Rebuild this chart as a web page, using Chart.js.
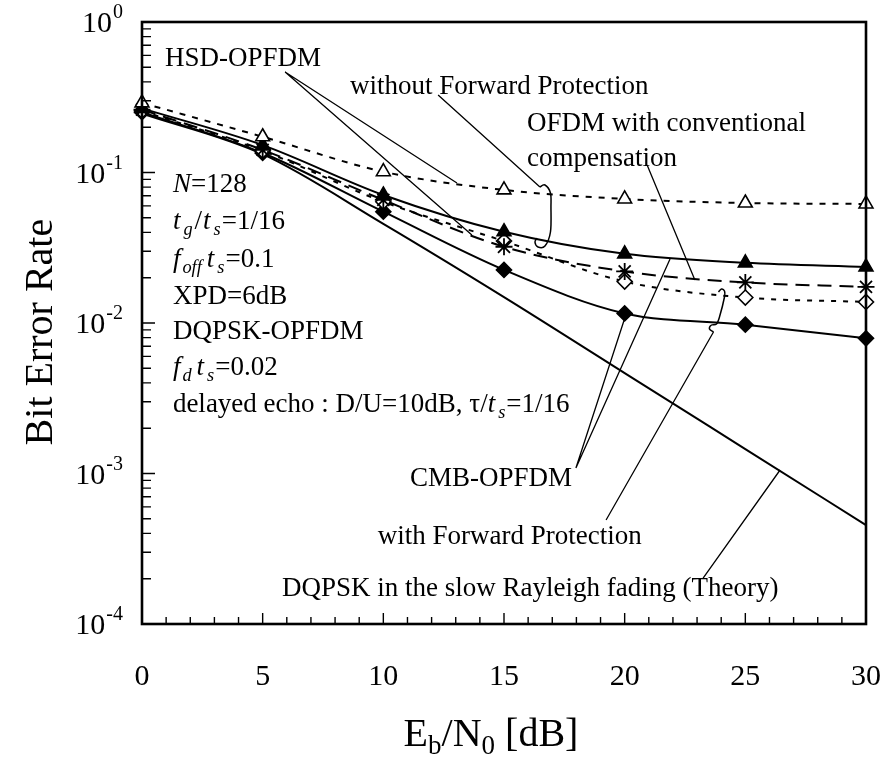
<!DOCTYPE html>
<html>
<head>
<meta charset="utf-8">
<title>BER vs Eb/N0</title>
<script src="https://cdn.jsdelivr.net/npm/chart.js@4.4.1/dist/chart.umd.min.js"></script>
<style>
  html, body { margin: 0; padding: 0; background: #ffffff; }
  canvas { display: block; }
</style>
</head>
<body>
<canvas id="ber" width="881" height="761"></canvas>
<script>
// Eb/N0 points (dB)
const ebn0 = [0, 5, 10, 15, 20, 25, 30];

// Bit error rate for each scheme
const hsdWithoutFP     = [0.290, 0.1728, 0.1012, 0.0766, 0.0667, 0.0627, 0.0618];
const cmbWithoutFP     = [0.2666, 0.1521, 0.0709, 0.0404, 0.0288, 0.0251, 0.0236];
const ofdmConventional = [0.2615, 0.1413, 0.0657, 0.0321, 0.0220, 0.0186, 0.0174];
const hsdWithFP        = [0.2565, 0.1392, 0.0639, 0.0350, 0.01885, 0.01477, 0.0138];
const cmbWithFP        = [0.2515, 0.1348, 0.0549, 0.02254, 0.01158, 0.00974, 0.00791];
const theoryRayleigh   = [0.2466, 0.1323, 0.0456, 0.01487, 0.00465, 0.001453, 0.000454];

// Axis tick labels
const xTickValues = [0, 5, 10, 15, 20, 25, 30];
const yTickExponents = [0, -1, -2, -3, -4];

const FONT = '"Liberation Serif", "Times New Roman", Times, serif';
const TEXT_SIZE = 27;

const toPoints = (xs, ys) => xs.map((x, i) => ({ x, y: ys[i] }));

// Text annotations, anchored in data coordinates (dB, BER); y is the text's vertical centre.
const notes = [
  { x: 0.95, y: 0.5855, runs: [{ t: 'HSD-OPFDM' }] },
  { x: 8.62, y: 0.3814, runs: [{ t: 'without Forward Protection' }] },
  { x: 15.95, y: 0.2165, runs: [{ t: 'OFDM with conventional' }] },
  { x: 15.95, y: 0.1268, runs: [{ t: 'compensation' }] },
  { x: 1.28, y: 0.0851, runs: [{ t: 'N', it: 1 }, { t: '=128' }] },
  { x: 1.28, y: 0.04834, runs: [{ t: 't', it: 1 }, { t: 'g', it: 1, sub: 1, g: 3 }, { t: '/', g: 2 }, { t: 't', it: 1, g: 1 }, { t: 's', it: 1, sub: 1, g: 3 }, { t: '=1/16', g: 1 }] },
  { x: 1.28, y: 0.02703, runs: [{ t: 'f', it: 1 }, { t: 'off', it: 1, sub: 1, g: 2 }, { t: 't', it: 1, g: 5 }, { t: 's', it: 1, sub: 1, g: 3 }, { t: '=0.1', g: 1 }] },
  { x: 1.28, y: 0.01535, runs: [{ t: 'XPD=6dB' }] },
  { x: 1.28, y: 0.008984, runs: [{ t: 'DQPSK-OPFDM' }] },
  { x: 1.28, y: 0.005179, runs: [{ t: 'f', it: 1 }, { t: 'd', it: 1, sub: 1, g: 2 }, { t: 't', it: 1, g: 5 }, { t: 's', it: 1, sub: 1, g: 3 }, { t: '=0.02', g: 1 }] },
  { x: 1.28, y: 0.00294, runs: [{ t: 'delayed echo : D/U=10dB, \u03c4/' }, { t: 't', it: 1 }, { t: 's', it: 1, sub: 1, g: 3 }, { t: '=1/16', g: 1 }] },
  { x: 11.1, y: 0.000948, runs: [{ t: 'CMB-OPFDM' }] },
  { x: 9.77, y: 0.0003903, runs: [{ t: 'with Forward Protection' }] },
  { x: 5.8, y: 0.0001761, runs: [{ t: 'DQPSK in the slow Rayleigh fading (Theory)' }] }
];

// Leader lines from labels to curves, in data coordinates.
const leaders = [
  [[5.93, 0.4653], [13.05, 0.0851]],
  [[5.93, 0.4653], [13.67, 0.03844]],
  [[12.27, 0.3273], [16.49, 0.0801]],
  [[20.93, 0.1121], [22.91, 0.0193]],
  [[17.98, 0.001088], [20.06, 0.01148]],
  [[17.98, 0.001088], [21.88, 0.02661]],
  [[19.23, 0.000491], [23.68, 0.008714]],
  [[23.25, 0.000202], [26.44, 0.001055]]
];

// Grouping loops drawn at a leader's end; offsets in pixels from the anchor.
const loops = [
  { x: 16.49, y: 0.0801, path: [[0, 0], [5, -2], [10.5, 6], [11, 20], [10.5, 45], [5, 59], [-2, 60], [-5, 55], [-3, 51]] },
  { x: 23.68, y: 0.008714, path: [[0, 0], [-4, -3], [-2, -7], [3, -8], [6, -15], [11, -35], [11, -41], [8, -43], [5, -40]] }
];

function drawRuns(ctx, x, cy, runs, size) {
  const base = cy + size * 0.33;
  let cx = x;
  for (const r of runs) {
    const s = r.sub ? size * 0.68 : size;
    ctx.font = (r.it ? 'italic ' : '') + s + 'px ' + FONT;
    cx += r.g || 0;
    ctx.fillText(r.t, cx, base + (r.sub ? size * 0.24 : 0));
    cx += ctx.measureText(r.t).width;
  }
}

function smoothPath(ctx, pts) {
  ctx.moveTo(pts[0][0], pts[0][1]);
  for (let i = 0; i < pts.length - 1; i++) {
    const p0 = pts[Math.max(i - 1, 0)], p1 = pts[i], p2 = pts[i + 1], p3 = pts[Math.min(i + 2, pts.length - 1)];
    const c1x = p1[0] + (p2[0] - p0[0]) / 6, c1y = p1[1] + (p2[1] - p0[1]) / 6;
    const c2x = p2[0] - (p3[0] - p1[0]) / 6, c2y = p2[1] - (p3[1] - p1[1]) / 6;
    ctx.bezierCurveTo(c1x, c1y, c2x, c2y, p2[0], p2[1]);
  }
}

// Frame, inward ticks, tick labels and axis titles
const axesPlugin = {
  id: 'axesFrame',
  afterDatasetsDraw(chart) {
    const { ctx, chartArea: a, scales: { x, y } } = chart;
    ctx.save();
    ctx.strokeStyle = '#000';
    ctx.fillStyle = '#000';

    // ticks on the bottom axis: every dB, longer at labelled values
    ctx.lineWidth = 1.4;
    ctx.beginPath();
    for (let v = x.min; v <= x.max; v += 1) {
      const px = x.getPixelForValue(v);
      const len = v % 5 === 0 ? 11 : 7;
      ctx.moveTo(px, a.bottom);
      ctx.lineTo(px, a.bottom - len);
    }
    // ticks on the left axis: decades and 2..9 minors
    for (let e = -4; e <= 0; e++) {
      for (let m = 1; m <= 9; m++) {
        const v = m * Math.pow(10, e);
        if (v < y.min || v > y.max) continue;
        const py = y.getPixelForValue(v);
        const len = m === 1 ? 13 : 9;
        ctx.moveTo(a.left, py);
        ctx.lineTo(a.left + len, py);
      }
    }
    ctx.stroke();

    // frame
    ctx.lineWidth = 2.6;
    ctx.strokeRect(a.left, a.top, a.right - a.left, a.bottom - a.top);

    // bottom tick labels
    ctx.font = '30px ' + FONT;
    ctx.textAlign = 'center';
    ctx.textBaseline = 'alphabetic';
    for (const v of xTickValues) {
      ctx.fillText(String(v), x.getPixelForValue(v), a.bottom + 61);
    }

    // left tick labels as powers of ten
    ctx.textAlign = 'left';
    for (const e of yTickExponents) {
      const py = y.getPixelForValue(Math.pow(10, e));
      ctx.font = '30px ' + FONT;
      const wBase = ctx.measureText('10').width;
      ctx.font = '20px ' + FONT;
      const expTxt = e === 0 ? '0' : '-' + Math.abs(e);
      const wExp = ctx.measureText(expTxt).width;
      const right = 123;
      const left = right - wBase - wExp - 1;
      ctx.font = '30px ' + FONT;
      ctx.fillText('10', left, py + 10);
      ctx.font = '20px ' + FONT;
      ctx.fillText(expTxt, left + wBase + 1, py - 4);
    }

    // axis titles
    ctx.save();
    ctx.font = '40px ' + FONT;
    ctx.textAlign = 'center';
    ctx.translate(38, y.getPixelForValue(0.0087));
    ctx.rotate(-Math.PI / 2);
    ctx.fillText('Bit Error Rate', 0, 14);
    ctx.restore();

    const titleRuns = [{ t: 'E', s: 40 }, { t: 'b', s: 27, dy: 8 }, { t: '/N', s: 40 }, { t: '0', s: 27, dy: 8 }, { t: ' [dB]', s: 40 }];
    let tw = 0;
    for (const r of titleRuns) { ctx.font = r.s + 'px ' + FONT; tw += ctx.measureText(r.t).width; }
    let tx = 491 - tw / 2;
    ctx.textAlign = 'left';
    for (const r of titleRuns) {
      ctx.font = r.s + 'px ' + FONT;
      ctx.fillText(r.t, tx, a.bottom + 122 + (r.dy || 0));
      tx += ctx.measureText(r.t).width;
    }
    ctx.restore();
  }
};

// Labels, leader lines and grouping loops
const notesPlugin = {
  id: 'notes',
  afterDraw(chart) {
    const { ctx, scales: { x, y } } = chart;
    const P = (dx, dy) => [x.getPixelForValue(dx), y.getPixelForValue(dy)];
    ctx.save();
    ctx.fillStyle = '#000';
    ctx.strokeStyle = '#000';
    ctx.textAlign = 'left';
    ctx.textBaseline = 'alphabetic';
    for (const n of notes) {
      const [px, py] = P(n.x, n.y);
      drawRuns(ctx, px, py, n.runs, TEXT_SIZE);
    }
    ctx.lineWidth = 1.3;
    ctx.beginPath();
    for (const [p0, p1] of leaders) {
      const a = P(p0[0], p0[1]), b = P(p1[0], p1[1]);
      ctx.moveTo(a[0], a[1]);
      ctx.lineTo(b[0], b[1]);
    }
    ctx.stroke();
    ctx.lineWidth = 1.5;
    for (const l of loops) {
      const [ax, ay] = P(l.x, l.y);
      ctx.beginPath();
      smoothPath(ctx, l.path.map(([dx, dy]) => [ax + dx, ay + dy]));
      ctx.stroke();
    }
    ctx.restore();
  }
};

const lineBase = {
  borderColor: '#000',
  borderWidth: 2,
  pointBorderColor: '#000',
  pointBorderWidth: 1.6,
  cubicInterpolationMode: 'monotone',
  clip: false,
  fill: false
};

new Chart(document.getElementById('ber'), {
  type: 'line',
  data: {
    datasets: [
      { ...lineBase, label: 'HSD-OPFDM without forward protection', data: toPoints(ebn0, hsdWithoutFP),
        borderDash: [6, 7], pointStyle: 'triangle', pointRadius: 8, pointBackgroundColor: '#fff' },
      { ...lineBase, label: 'CMB-OPFDM without forward protection', data: toPoints(ebn0, cmbWithoutFP),
        pointStyle: 'triangle', pointRadius: 8, pointBackgroundColor: '#000' },
      { ...lineBase, label: 'OFDM with conventional compensation', data: toPoints(ebn0, ofdmConventional),
        borderDash: [14, 8], pointStyle: 'star', pointRadius: 8.5, pointBorderWidth: 1.8, pointBackgroundColor: '#000' },
      { ...lineBase, label: 'HSD-OPFDM with forward protection', data: toPoints(ebn0, hsdWithFP),
        borderDash: [5, 7], pointStyle: 'rectRot', pointRadius: 7.5, pointBackgroundColor: '#fff' },
      { ...lineBase, label: 'CMB-OPFDM with forward protection', data: toPoints(ebn0, cmbWithFP),
        pointStyle: 'rectRot', pointRadius: 7.5, pointBackgroundColor: '#000' },
      { ...lineBase, label: 'DQPSK in the slow Rayleigh fading (Theory)', data: toPoints(ebn0, theoryRayleigh),
        pointRadius: 0 }
    ]
  },
  options: {
    responsive: false,
    animation: false,
    devicePixelRatio: 1,
    layout: { padding: { top: 22, right: 15, left: 0, bottom: 0 } },
    plugins: { legend: { display: false }, tooltip: { enabled: false } },
    events: [],
    scales: {
      x: {
        type: 'linear', min: 0, max: 30,
        grid: { display: false }, border: { display: false },
        ticks: { display: false },
        afterFit(s) { s.height = 137; }
      },
      y: {
        type: 'logarithmic', min: 1e-4, max: 1,
        grid: { display: false }, border: { display: false },
        ticks: { display: false },
        afterFit(s) { s.width = 142; }
      }
    }
  },
  plugins: [axesPlugin, notesPlugin]
});
</script>
</body>
</html>
